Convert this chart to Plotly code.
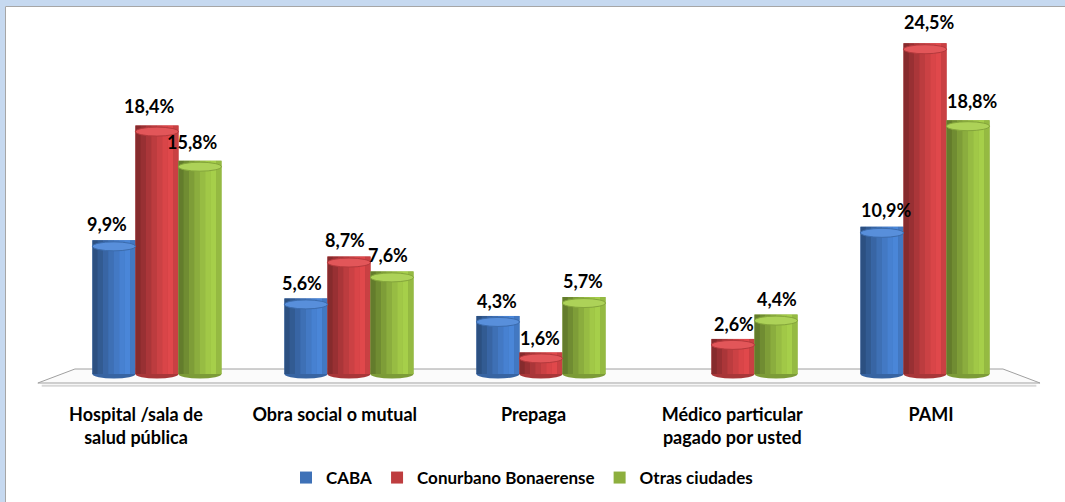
import plotly.graph_objects as go

# ---------------- data ----------------
categories = [
    "Hospital /sala de<br>salud pública",
    "Obra social o mutual",
    "Prepaga",
    "Médico particular<br>pagado por usted",
    "PAMI",
]
series_names = ["CABA", "Conurbano Bonaerense", "Otras ciudades"]
caba = [9.9, 5.6, 4.3, None, 10.9]
conurbano = [18.4, 8.7, 1.6, 2.6, 24.5]
otras = [15.8, 7.6, 5.7, 4.4, 18.8]

# ---------------- styling / geometry ----------------
W, H = 1065, 502
M_L, M_R, M_T, M_B = 30, 15, 14, 110
PLOT_W = W - M_L - M_R
PLOT_H = H - M_T - M_B
X_RANGE = [-0.661, 4.651]
# perspective-shifted axis carrying the category labels
X2_RANGE = [-0.5333, 4.5987]
Y_RANGE = [-0.889, 27.111]
PX_PER_Y = PLOT_H / (Y_RANGE[1] - Y_RANGE[0])

BAR_W = 0.224
CENTERS = [-BAR_W, 0.0, BAR_W]
BASE = 0.444
CAP_H = 4.5 / PX_PER_Y
BOT_H = 4.5 / PX_PER_Y

LIGHT = ["#4A86D8", "#E0484B", "#A6CF4A"]
FACTORS = [0.60, 0.68, 0.76, 0.84, 0.91, 0.97, 1.0, 0.90]
FONT = "Lato"


def shade(hexc, f):
    r, g, b = int(hexc[1:3], 16), int(hexc[3:5], 16), int(hexc[5:7], 16)
    if f <= 1:
        r, g, b = r * f, g * f, b * f
    else:
        t = f - 1
        r, g, b = r + (255 - r) * t, g + (255 - g) * t, b + (255 - b) * t
    return "#%02x%02x%02x" % (int(r), int(g), int(b))


def fmt(v):
    return ("%.1f%%" % v).replace(".", ",")


def bold(size):
    return dict(family=FONT, size=size, color="#000000", weight="bold")


series = [caba, conurbano, otras]
fig = go.Figure()
shapes = []
annotations = []

# floor of the 3D plot
shapes.append(dict(type="path", xref="x", yref="y", layer="below",
                   path="M -0.620,-0.222 L -0.427,0.815 L 4.406,0.815 L 4.599,-0.222 Z",
                   fillcolor="#FBFBFB", line=dict(color="#A0A0A0", width=1)))
shapes.append(dict(type="line", xref="x", yref="y", layer="below",
                   x0=-0.60, x1=4.58, y0=-0.42, y1=-0.42,
                   line=dict(color="#D8D8D8", width=2)))

for si, (name, vals) in enumerate(zip(series_names, series)):
    c = CENTERS[si]
    # base full bar (shows legend)
    fig.add_trace(go.Bar(
        x=categories, y=vals, base=BASE, name=name,
        width=BAR_W, offset=c - BAR_W / 2,
        marker=dict(color=shade(LIGHT[si], 0.85), line=dict(width=0)),
        hoverinfo="skip", showlegend=True,
    ))
    # cylinder shading strips
    n = len(FACTORS)
    sw = BAR_W / n
    for k, f in enumerate(FACTORS):
        fig.add_trace(go.Bar(
            x=categories, y=vals, base=BASE, name=name,
            width=sw * 1.02, offset=c - BAR_W / 2 + k * sw,
            marker=dict(color=shade(LIGHT[si], f), line=dict(width=0)),
            hoverinfo="skip", showlegend=False,
        ))
    for ci, v in enumerate(vals):
        if v is None:
            continue
        xc = ci + c
        # bottom rounded edge
        shapes.append(dict(type="circle", xref="x", yref="y", layer="below",
                           x0=xc - BAR_W / 2, x1=xc + BAR_W / 2,
                           y0=BASE - BOT_H, y1=BASE + BOT_H,
                           fillcolor=shade(LIGHT[si], 0.75), line=dict(width=0)))
        # top cap
        shapes.append(dict(type="circle", xref="x", yref="y", layer="above",
                           x0=xc - BAR_W / 2, x1=xc + BAR_W / 2,
                           y0=v - CAP_H, y1=v + CAP_H,
                           fillcolor=shade(LIGHT[si], 1.08),
                           line=dict(color=shade(LIGHT[si], 0.8), width=1)))
        # value label (slight perspective drift like the 3D original)
        annotations.append(dict(x=xc, y=v, xref="x", yref="y", text=fmt(v),
                                showarrow=False,
                                yshift=20 + 0.28 * v,
                                xshift=-7 + 2.8 * ci,
                                font=bold(18)))

# carrier trace (draws nothing) so the category-label axis is rendered
fig.add_trace(go.Scatter(
    x=list(range(len(categories))), y=[BASE] * len(categories),
    xaxis="x2", yaxis="y", mode="none", showlegend=False, hoverinfo="skip",
))


# outer frame: light blue strips on top and left with grey edge
def px_x(px):
    return (px - M_L) / PLOT_W


def px_y(py):
    return (H - M_B - py) / PLOT_H


frame_blue = "#C6D9F0"
shapes += [
    dict(type="rect", xref="paper", yref="paper", layer="above",
         x0=px_x(0), x1=px_x(W), y0=px_y(6), y1=px_y(0),
         fillcolor=frame_blue, line=dict(width=0)),
    dict(type="rect", xref="paper", yref="paper", layer="above",
         x0=px_x(0), x1=px_x(5), y0=px_y(H), y1=px_y(0),
         fillcolor=frame_blue, line=dict(width=0)),
    dict(type="line", xref="paper", yref="paper", layer="above",
         x0=px_x(5.5), x1=px_x(W), y0=px_y(6.5), y1=px_y(6.5),
         line=dict(color="#A6A6A6", width=1)),
    dict(type="line", xref="paper", yref="paper", layer="above",
         x0=px_x(5.5), x1=px_x(5.5), y0=px_y(H), y1=px_y(6.5),
         line=dict(color="#A6A6A6", width=1)),
]

fig.update_layout(
    width=W, height=H,
    margin=dict(l=M_L, r=M_R, t=M_T, b=M_B, autoexpand=False),
    barmode="overlay",
    paper_bgcolor="#FFFFFF",
    plot_bgcolor="rgba(0,0,0,0)",
    font=bold(18),
    shapes=shapes,
    annotations=annotations,
    showlegend=True,
    legend=dict(orientation="h", x=px_x(522), xanchor="center",
                y=px_y(478), yanchor="middle",
                font=bold(17),
                itemwidth=30, tracegroupgap=0,
                bgcolor="rgba(0,0,0,0)"),
    xaxis=dict(range=X_RANGE, showgrid=False, zeroline=False, showline=False,
               ticks="", showticklabels=False, fixedrange=True,
               automargin=False),
    xaxis2=dict(range=X2_RANGE, overlaying="x", anchor="y", side="bottom",
                tickmode="array", tickvals=list(range(len(categories))),
                ticktext=categories,
                showgrid=False, zeroline=False, showline=False,
                ticks="", ticklabelstandoff=10,
                tickfont=bold(18), fixedrange=True, automargin=False),
    yaxis=dict(range=Y_RANGE, visible=False, showgrid=False, zeroline=False,
               fixedrange=True, automargin=False),
)

fig.write_html("out.html", config={"displayModeBar": False},
               post_script="document.body.style.margin='0';document.body.style.overflow='hidden';")
